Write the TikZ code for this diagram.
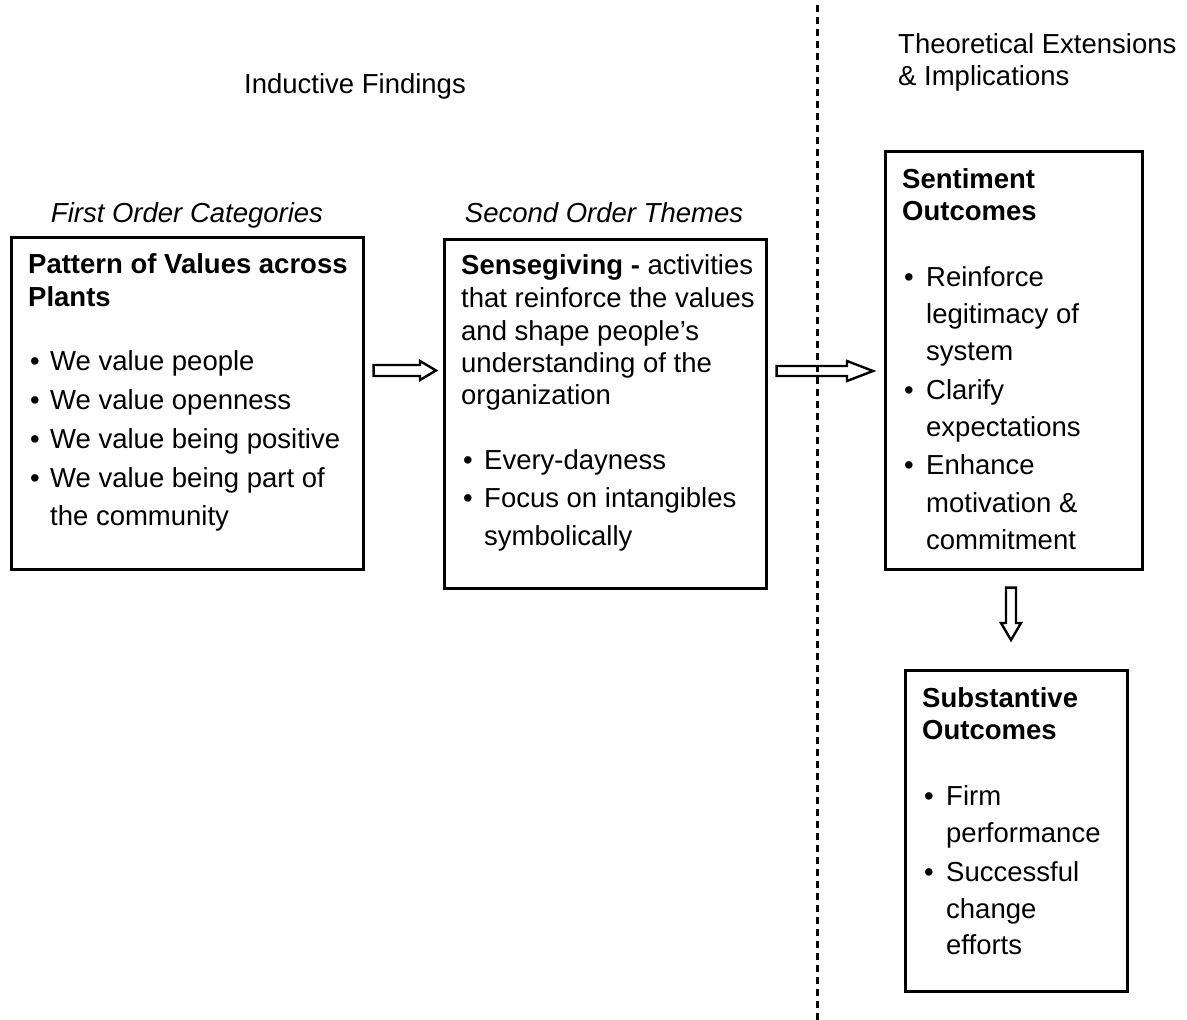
\documentclass[tikz,border=0pt]{standalone}
\usepackage{fontspec}
\setmainfont{Liberation Sans}
\usetikzlibrary{calc}
\newcommand\putline[4][txt]{\node[#1] (#2) at #3 {#4};}
\newcommand\putbullet[2]{\node[txt] (#1) at #2 {\textbullet};}
% horizontal block arrow: tail, tip, head length, shaft half, head half
\newcommand\harrow[5]{\draw[barrow] ($(#1)+(0,-#4)$) -- ($(#2)+(-#3,-#4)$) -- ($(#2)+(-#3,-#5)$) -- (#2) -- ($(#2)+(-#3,#5)$) -- ($(#2)+(-#3,#4)$) -- ($(#1)+(0,#4)$) -- cycle;}
\newcommand\varrow[5]{\draw[barrow] ($(#1)+(-#4,0)$) -- ($(#2)+(-#4,-#3)$) -- ($(#2)+(-#5,-#3)$) -- (#2) -- ($(#2)+(#5,-#3)$) -- ($(#2)+(#4,-#3)$) -- ($(#1)+(#4,0)$) -- cycle;}
\begin{document}
\begin{tikzpicture}[x=1pt,y=-1pt,
 txt/.style={inner sep=0pt, anchor=base west, yshift=-2pt, font=\fontsize{27.5}{33}\selectfont},
 hdr/.style={txt, font=\fontsize{27.5}{33}\selectfont\bfseries},
 ital/.style={txt, anchor=base, font=\fontsize{27.5}{33}\selectfont\itshape},
 ctr/.style={txt, anchor=base},
 box/.style={draw, line width=2.6pt, inner sep=0pt, anchor=north west},
 barrow/.style={draw, line width=2.4pt, line join=miter},
 sep/.style={line width=3pt, dash pattern=on 7pt off 5pt}]
\useasboundingbox (0,0) rectangle (1187,1020);

% separator
\coordinate (dtop) at (817,5);
\coordinate (dbot) at (817,1020);
\draw[sep] (dtop) -- (dbot);

% titles
\putline[ctr]{tind}{(355,91)}{Inductive Findings}
\putline{tth1}{(898,51)}{Theoretical Extensions}
\putline{tth2}{(898,83)}{\& Implications}
\putline[ital]{tfirst}{(187,220)}{First Order Categories}
\putline[ital]{tsecond}{(604,220)}{Second Order Themes}

% boxes
\node[box, minimum width=352pt, minimum height=332pt] (b1) at (10,236) {};
\node[box, minimum width=322pt, minimum height=349pt] (b2) at (443,238) {};
\node[box, minimum width=257pt, minimum height=418pt] (b3) at (884,150) {};
\node[box, minimum width=222pt, minimum height=321pt] (b4) at (904,669) {};

% box 1
\putline[hdr]{h11}{(28,271)}{Pattern of Values across}
\putline[hdr]{h12}{(28,304)}{Plants}
\putbullet{p11}{(30,368)}\putline{l11}{(50,368)}{We value people}
\putbullet{p12}{(30,407)}\putline{l12}{(50,407)}{We value openness}
\putbullet{p13}{(30,446)}\putline{l13}{(50,446)}{We value being positive}
\putbullet{p14}{(30,485)}\putline{l14}{(50,485)}{We value being part of}
\putline{l15}{(50,523)}{the community}

% box 2
\putline{h21}{(461,272)}{\textbf{Sensegiving -} activities}
\putline{h22}{(461,305)}{that reinforce the values}
\putline{h23}{(461,338)}{and shape people’s}
\putline{h24}{(461,370)}{understanding of the}
\putline{h25}{(461,402)}{organization}
\putbullet{p21}{(463,467)}\putline{l21}{(484,467)}{Every-dayness}
\putbullet{p22}{(463,505)}\putline{l22}{(484,505)}{Focus on intangibles}
\putline{l23}{(484,543)}{symbolically}

% box 3
\putline[hdr]{h31}{(902,186)}{Sentiment}
\putline[hdr]{h32}{(902,218)}{Outcomes}
\putbullet{p31}{(904,284)}\putline{l31}{(926,284)}{Reinforce}
\putline{l32}{(926,321)}{legitimacy of}
\putline{l33}{(926,358)}{system}
\putbullet{p32}{(904,397)}\putline{l34}{(926,397)}{Clarify}
\putline{l35}{(926,434)}{expectations}
\putbullet{p33}{(904,472)}\putline{l36}{(926,472)}{Enhance}
\putline{l37}{(926,510)}{motivation \&}
\putline{l38}{(926,547)}{commitment}

% box 4
\putline[hdr]{h41}{(922,705)}{Substantive}
\putline[hdr]{h42}{(922,737)}{Outcomes}
\putbullet{p41}{(924,803)}\putline{l41}{(946,803)}{Firm}
\putline{l42}{(946,840)}{performance}
\putbullet{p42}{(924,879)}\putline{l43}{(946,879)}{Successful}
\putline{l44}{(946,916)}{change}
\putline{l45}{(946,952)}{efforts}

% arrows
\coordinate (a1tail) at ($(b1.east |- 0,370.5)+(9,0)$);
\coordinate (a1tip) at ($(b2.west |- 0,370.5)+(-7,0)$);
\harrow{a1tail}{a1tip}{16}{5.5}{9.5}
\coordinate (a2tail) at ($(b2.east |- 0,371)+(9,0)$);
\coordinate (a2tip) at ($(b3.west |- 0,371)+(-11,0)$);
\harrow{a2tail}{a2tip}{26}{5}{10}
\coordinate (a3tail) at ($(b3.south -| 1011,0)+(0,17)$);
\coordinate (a3tip) at ($(b4.north -| 1011,0)+(0,-29)$);
\varrow{a3tail}{a3tip}{17}{5}{10}
\end{tikzpicture}
\end{document}
